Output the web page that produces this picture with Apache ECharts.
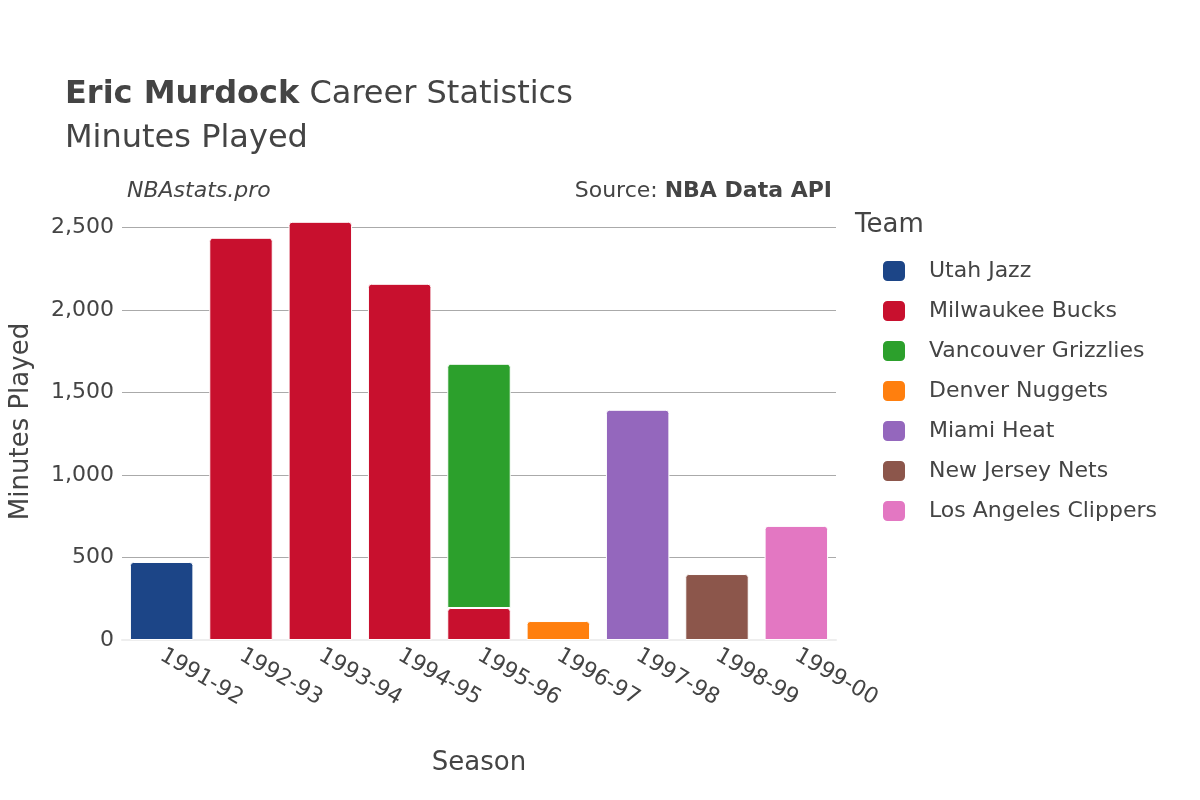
<!DOCTYPE html>
<html lang="en">
<head>
<meta charset="UTF-8">
<title>Eric Murdock Minutes Played</title>
<script src="https://cdn.jsdelivr.net/npm/echarts@6/dist/echarts.min.js"></script>
</head>
<body style="margin:0">
<div id="main" style="width:1200px;height:800px;"></div>
<script type="text/javascript">
var seasons = ['1991-92', '1992-93', '1993-94', '1994-95', '1995-96', '1996-97', '1997-98', '1998-99', '1999-00'];
var teams = ['Utah Jazz', 'Milwaukee Bucks', 'Vancouver Grizzlies', 'Denver Nuggets', 'Miami Heat', 'New Jersey Nets', 'Los Angeles Clippers'];
var colors = ['#1c4587', '#c8102e', '#2ca02c', '#ff7f0e', '#9467bd', '#8c564b', '#e377c2'];
// minutes per team per season (null = not on that team)
var utah = [473, null, null, null, null, null, null, null, null];
var bucks = [null, 2439, 2536, 2160, 194, null, null, null, null];
var grizzlies = [null, null, null, null, 1481, null, null, null, null];
var nuggets = [null, null, null, null, null, 115, null, null, null];
var heat = [null, null, null, null, null, null, 1396, null, null];
var nets = [null, null, null, null, null, null, null, 400, null];
var clippers = [null, null, null, null, null, null, null, null, 692];
var teamData = [utah, bucks, grizzlies, nuggets, heat, nets, clippers];

var myChart = echarts.init(document.getElementById('main'));
var font = 'DejaVu Sans';

var series = teams.map(function (t, i) {
	return {
		name: t,
		type: 'bar',
		stack: 'total',
		barWidth: '80%',
		data: teamData[i],
		itemStyle: { color: colors[i], borderRadius: [3, 3, 0, 0], borderColor: '#fff', borderWidth: 1 }
	};
});

var option = {
	textStyle: { fontFamily: font },
	title: {
		text: '{b|Eric Murdock} Career Statistics\nMinutes Played',
		left: 60, top: 68,
		textStyle: {
			fontSize: 32, fontWeight: 'normal', color: '#444', lineHeight: 44, fontFamily: font,
			rich: { b: { fontSize: 32, fontWeight: 'bold', color: '#444', fontFamily: font } }
		}
	},
	graphic: [
		{ type: 'text', left: 127, top: 180, style: { text: 'NBAstats.pro', fontSize: 22, fontStyle: 'italic', fill: '#444', fontFamily: font } },
		{ type: 'text', right: 368, top: 180, style: { text: '{n|Source: }{b|NBA Data API}', fill: '#444', fontFamily: font,
			rich: { n: { fontSize: 22, fill: '#444', fontFamily: font }, b: { fontSize: 22, fontWeight: 'bold', fill: '#444', fontFamily: font } } } },
		{ type: 'text', left: 855, top: 212, style: { text: 'Team', fontSize: 26, fill: '#444', fontFamily: font } }
	],
	legend: {
		orient: 'vertical', left: 876, top: 254, itemGap: 16,
		icon: 'roundRect', itemWidth: 24, itemHeight: 22,
		data: teams,
		textStyle: { fontSize: 22, color: '#444', fontFamily: font, padding: [0, 0, 0, 18] }
	},
	grid: { left: 122, right: 364, top: 203, bottom: 160 },
	xAxis: {
		type: 'category', data: seasons,
		name: 'Season', nameLocation: 'middle', nameGap: 110,
		nameTextStyle: { fontSize: 26, color: '#444' },
		axisTick: { show: false },
		axisLine: { lineStyle: { color: '#eee', width: 2 } },
		axisLabel: { rotate: -30, fontSize: 22, color: '#444', margin: 14 }
	},
	yAxis: {
		type: 'value', min: 0, max: 2650, interval: 500,
		name: 'Minutes Played', nameLocation: 'middle', nameGap: 88,
		nameTextStyle: { fontSize: 26, color: '#444' },
		axisLabel: { fontSize: 22, color: '#444', showMaxLabel: false },
		splitLine: { showMaxLine: false, lineStyle: { color: '#aaa' } }
	},
	series: series
};
myChart.setOption(option);
</script>
</body>
</html>
